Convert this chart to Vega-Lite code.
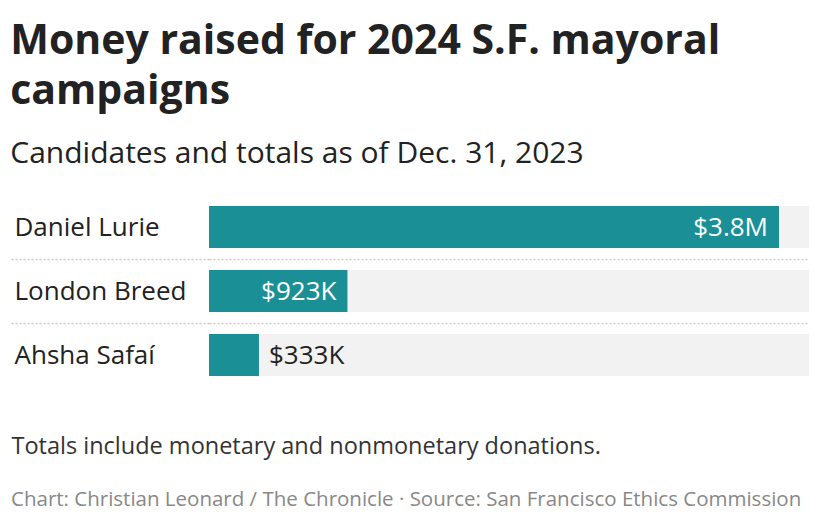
{
  "$schema": "https://vega.github.io/schema/vega-lite/v6.json",
  "padding": {"left": 10, "top": 21, "right": 0, "bottom": 0},
  "background": "white",
  "config": {"view": {"stroke": null}, "font": "Open Sans"},
  "spacing": 31,
  "vconcat": [
    {
      "width": 600,
      "height": 192,
      "title": {
        "text": ["Money raised for 2024 S.F. mayoral", "campaigns"],
        "subtitle": "Candidates and totals as of Dec. 31, 2023",
        "anchor": "start",
        "frame": "bounds",
        "font": "Open Sans",
        "fontSize": 41,
        "fontWeight": "bold",
        "lineHeight": 50,
        "color": "#222222",
        "subtitleFont": "Open Sans",
        "subtitleFontSize": 30,
        "subtitleColor": "#222222",
        "subtitlePadding": 26,
        "offset": 12
      },
      "data": {
        "values": [
          {"candidate": "Daniel Lurie", "amount": 3800000, "label": "$3.8M"},
          {"candidate": "London Breed", "amount": 923000, "label": "$923K"},
          {"candidate": "Ahsha Safaí", "amount": 333000, "label": "$333K"}
        ]
      },
      "encoding": {
        "y": {
          "field": "candidate",
          "type": "nominal",
          "sort": null,
          "scale": {"paddingInner": 0, "paddingOuter": 0},
          "axis": {
            "title": null,
            "domain": false,
            "tickBand": "extent",
            "tickSize": 198,
            "tickColor": "#cccccc",
            "tickDash": [2, 2],
            "tickWidth": 1.5,
            "tickOpacity": {"condition": {"test": "datum.value === 'Ahsha Safaí' || datum.extra", "value": 0}, "value": 1},
            "grid": true,
            "gridColor": "#cccccc",
            "gridDash": [2, 2],
            "gridWidth": 1.5,
            "gridOpacity": {"condition": {"test": "datum.value === 'Ahsha Safaí' || datum.extra", "value": 0}, "value": 1},
            "labelAlign": "left",
            "labelPadding": -3,
            "labelFont": "Open Sans",
            "labelFontSize": 26,
            "labelColor": "#222222"
          }
        }
      },
      "layer": [
        {
          "mark": {"type": "bar", "color": "#f2f2f2", "height": {"band": 0.65625}},
          "encoding": {
            "x": {
              "datum": 4000000,
              "type": "quantitative",
              "scale": {"domain": [0, 4000000]},
              "axis": {
                "title": "Totals include monetary and nonmonetary donations.",
                "labels": false,
                "ticks": false,
                "domain": false,
                "grid": false,
                "titleAnchor": "start",
                "titleAlign": "left",
                "titleX": -198,
                "titleY": 66,
                "titleBaseline": "alphabetic",
                "titleFont": "Open Sans",
                "titleFontSize": 23.5,
                "titleFontWeight": "normal",
                "titleColor": "#333333"
              }
            }
          }
        },
        {
          "mark": {"type": "bar", "color": "#1a9096", "height": {"band": 0.65625}},
          "encoding": {"x": {"field": "amount", "type": "quantitative"}}
        },
        {
          "transform": [{"filter": "datum.amount >= 500000"}],
          "mark": {"type": "text", "align": "right", "baseline": "middle", "dx": -11, "dy": 1, "color": "white", "fontSize": 26, "font": "Open Sans"},
          "encoding": {"x": {"field": "amount", "type": "quantitative"}, "text": {"field": "label"}}
        },
        {
          "transform": [{"filter": "datum.amount < 500000"}],
          "mark": {"type": "text", "align": "left", "baseline": "middle", "dx": 10, "dy": 1, "color": "#222222", "fontSize": 26, "font": "Open Sans"},
          "encoding": {"x": {"field": "amount", "type": "quantitative"}, "text": {"field": "label"}}
        }
      ]
    },
    {
      "width": 600,
      "height": 0,
      "title": {
        "text": "Chart: Christian Leonard / The Chronicle · Source: San Francisco Ethics Commission",
        "anchor": "start",
        "frame": "bounds",
        "dx": -198,
        "font": "Open Sans",
        "fontSize": 20.5,
        "fontWeight": "normal",
        "color": "#888888",
        "offset": 0
      },
      "data": {"values": [{"note": ""}]},
      "mark": {"type": "text"},
      "encoding": {"text": {"field": "note"}}
    }
  ]
}
